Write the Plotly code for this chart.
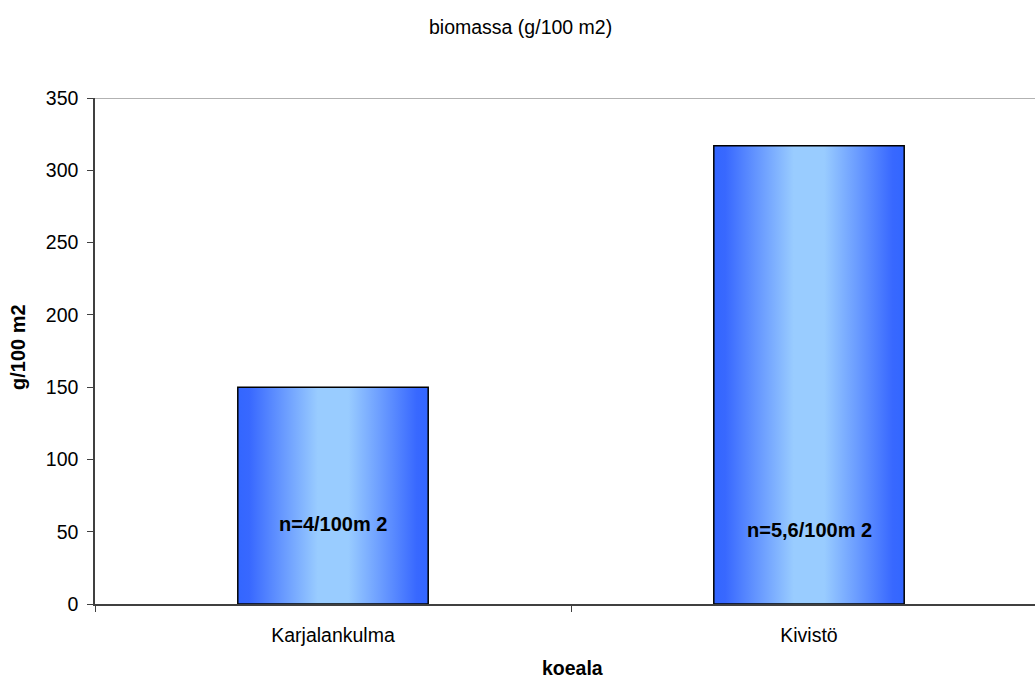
import plotly.graph_objects as go

# Data
sites = ["Karjalankulma", "Kivistö"]
biomass = [150, 317]                      # g/100 m2
density_labels = ["n=4/100m 2", "n=5,6/100m 2"]
label_heights = [55, 51]                  # y position of the in-bar labels (axis units)
y_ticks = [0, 50, 100, 150, 200, 250, 300, 350]

BAR_WIDTH = 0.4
Y_MAX = 350
FONT = "Liberation Sans, Arial, sans-serif"
TICK_SIZE = 19.5
BOLD_SIZE = 20

gradient = [
    [0.0, "#3366FF"],
    [0.06, "#3868FF"],
    [0.42, "#99CCFF"],
    [0.58, "#99CCFF"],
    [0.94, "#3868FF"],
    [1.0, "#3366FF"],
]

fig = go.Figure()

# Bars as closed polygons so each can carry a horizontal gradient fill
for i, (name, val) in enumerate(zip(sites, biomass)):
    x0, x1 = i - BAR_WIDTH / 2, i + BAR_WIDTH / 2
    fig.add_trace(go.Scatter(
        x=[x0, x0, x1, x1, x0],
        y=[0, val, val, 0, 0],
        mode="lines",
        fill="toself",
        fillgradient=dict(type="horizontal", colorscale=gradient, start=x0, stop=x1),
        line=dict(color="#000000", width=1.5),
        hoverinfo="skip",
        showlegend=False,
        name=name,
    ))

# Density labels inside the bars
for i, (txt, yv) in enumerate(zip(density_labels, label_heights)):
    fig.add_annotation(x=i, y=yv, text=f"<b>{txt}</b>", showarrow=False,
                       xanchor="center", yanchor="middle",
                       font=dict(family=FONT, size=BOLD_SIZE, color="#000000"))

# Plot area top border
fig.add_shape(type="line", xref="paper", x0=0, x1=1, yref="y", y0=Y_MAX, y1=Y_MAX,
              line=dict(color="#999999", width=1.5), layer="below")

W, H = 1035, 682
ML, MT, MB = 95, 98, 78
cat_px = 476
x_hi = -0.5 + (W - ML) / cat_px

fig.update_layout(
    width=W, height=H,
    margin=dict(l=ML, r=0, t=MT, b=MB),
    paper_bgcolor="#FFFFFF",
    plot_bgcolor="#FFFFFF",
    font=dict(family=FONT, size=TICK_SIZE, color="#000000"),
    showlegend=False,
    xaxis=dict(
        range=[-0.5, x_hi],
        tickmode="array", tickvals=list(range(len(sites))), ticktext=sites,
        ticks="", showgrid=False, zeroline=False,
        showline=True, linecolor="#404040", linewidth=1.5,
        minor=dict(tickmode="array", tickvals=[-0.5, 0.5, 1.5], ticks="outside",
                   ticklen=6, tickcolor="#404040", tickwidth=1, showgrid=False),
        ticklabelstandoff=13,
        tickfont=dict(family=FONT, size=TICK_SIZE),
        fixedrange=True,
    ),
    yaxis=dict(
        range=[0, Y_MAX],
        tickmode="array", tickvals=y_ticks,
        ticks="outside", ticklen=6, tickcolor="#404040", tickwidth=1,
        showgrid=False, zeroline=False,
        showline=True, linecolor="#404040", linewidth=1.5,
        tickfont=dict(family=FONT, size=TICK_SIZE),
        ticklabelstandoff=5,
        fixedrange=True,
    ),
)

# Title and axis titles placed in pixel terms via paper coordinates
plot_w = W - ML
plot_h = H - MT - MB
def px_to_paper(px, py):
    return (px - ML) / plot_w, (H - MB - py) / plot_h

tx, ty = px_to_paper(520, 27)
fig.add_annotation(text="biomassa (g/100 m2)", x=tx, y=ty, xref="paper", yref="paper",
                   xanchor="center", yanchor="middle", showarrow=False,
                   font=dict(family=FONT, size=TICK_SIZE))
kx, ky = px_to_paper(572, 668)
fig.add_annotation(text="<b>koeala</b>", x=kx, y=ky, xref="paper", yref="paper",
                   xanchor="center", yanchor="middle", showarrow=False,
                   font=dict(family=FONT, size=19.5))
gx, gy = px_to_paper(18, 347)
fig.add_annotation(text="<b>g/100 m2</b>", x=gx, y=gy, xref="paper", yref="paper",
                   xanchor="center", yanchor="middle", showarrow=False, textangle=-90,
                   font=dict(family=FONT, size=BOLD_SIZE))

fig.write_html("out.html", config={"displayModeBar": False})
